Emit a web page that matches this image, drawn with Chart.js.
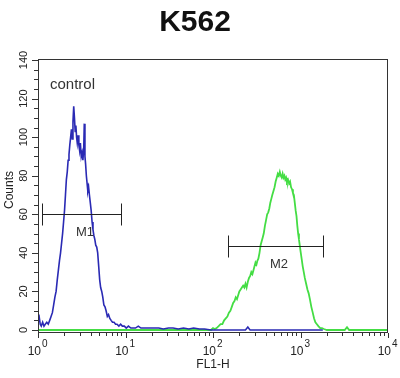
<!DOCTYPE html>
<html>
<head>
<meta charset="utf-8">
<script src="https://cdn.jsdelivr.net/npm/chart.js@4.4.1/dist/chart.umd.min.js"></script>
<style>
html,body{margin:0;padding:0;background:#fff;}
#wrap{width:400px;height:378px;}
</style>
</head>
<body>
<div id="wrap"><canvas id="c" width="400" height="378"></canvas></div>
<script>
// ---- data ----
const title = "K562";
const xTitle = "FL1-H";
const yTitle = "Counts";
const sampleLabel = "control";

const blueX = [1.00,1.03,1.06,1.09,1.13,1.17,1.21,1.26,1.31,1.36,1.41,1.46,1.51,1.56,1.61,1.66,1.71,1.76,1.81,1.86,1.91,1.96,2.01,2.06,2.11,2.16,2.21,2.26,2.31,2.36,2.41,2.46,2.51,2.56,2.61,2.66,2.71,2.76,2.81,2.87,2.93,2.99,3.05,3.12,3.19,3.26,3.33,3.38,3.44,3.50,3.57,3.64,3.71,3.79,3.87,3.96,4.05,4.15,4.25,4.35,4.46,4.57,4.69,4.81,4.94,5.07,5.20,5.35,5.50,5.66,5.83,6.00,6.20,6.40,6.62,6.85,7.1,7.4,7.7,8.0,8.4,8.8,9.2,9.7,10.2,10.8,11.5,12.3,13,14,15,17,19,21,24,27,31,35,40,46,53,60,70,80,95,120,150,200,235,250,265,350,500,1000,1400,1800];
const blueY = [6,7,3,2,4,2,3,4,3,5,7,9,13,17,20,26,31,36,40,45,50,56,62,70,78,82,88,91,96,100,104,99,108,116,110,103,106,100,97,101,96,93,97,90,92,88,94,107,90,86,80,76,72,74,70,66,62,56,52,49,47,44,43,40,33,26,22,20,17,13,12,10,7,8,6,5,4,4,3,3,2,3,2,2,1,2,1,1,1,2,1,1,1,1,1,0.5,1,1,0.5,1,0.5,1,0.5,0.5,0,0,0,0,0,1.5,0,0,0,0,0,0];

const greenX = [1,95,100,105,110,116,122,128,134,140,146,152,158,164,170,176,182,188,194,200,207,214,221,228,235,242,250,258,266,274,282,290,298,306,314,322,330,340,350,360,370,380,392,404,416,428,440,452,464,476,490,505,520,535,550,565,580,595,610,625,640,655,670,685,700,720,740,760,780,800,820,840,860,880,900,920,940,960,980,1000,1030,1060,1090,1120,1160,1200,1240,1280,1330,1380,1430,1480,1540,1600,1680,1760,1850,2000,2400,2800,3200,3400,3600,5000,10000];
const greenY = [0,0,1,0.5,1,2,3,3,5,6,7,9,10,12,14,15,17,16,18,20,21,22,23,22,24,22,25,27,28,30,29,31,33,35,34,36,37,40,44,46,48,50,54,57,60,61,63,66,68,70,72,74,77,79,81,80,82,80,79,81,79,80,78,79,77,78,76,77,74,73,71,70,66,62,59,54,50,47,44,41,37,33,30,27,24,21,19,16,12,9,6,4,3,2,1,1,0.5,0,0,0,0,1.5,0,0,0];

const xMajorTicks = [1,10,100,1000,10000];
const xTickExp = ["0","1","2","3","4"];
const yTickLabels = [0,20,40,60,80,100,120,140];
const yMinorStep = 5;

const markerNames = ["M1","M2"];
const markerFrom  = [1.11, 149];
const markerTo    = [9.0, 1791];
const markerLevel = [60, 43.6];

// ---- chart ----
const pts = (xs, ys) => xs.map((x, i) => ({x: x, y: ys[i]}));

const FONT = '"Liberation Sans", Arial, sans-serif';
const NARROW = '"Liberation Sans Narrow", "Liberation Sans", Arial, sans-serif';

const decor = {
  id: 'decor',
  afterDraw(chart) {
    const ctx = chart.ctx, a = chart.chartArea;
    const xs = chart.scales.x, ys = chart.scales.y;
    ctx.save();
    // frame
    ctx.strokeStyle = '#333';
    ctx.lineWidth = 1;
    ctx.strokeRect(a.left + 0.5, a.top + 0.5, a.right - a.left - 1, a.bottom - a.top - 1);

    // y ticks
    ctx.beginPath();
    for (let v = yTickLabels[0]; v <= yTickLabels[yTickLabels.length - 1]; v += yMinorStep) {
      const y = Math.round(ys.getPixelForValue(v)) + 0.5;
      const len = yTickLabels.includes(v) ? 6 : 4;
      ctx.moveTo(a.left, y); ctx.lineTo(a.left - len, y);
    }
    ctx.stroke();
    // y tick labels (rotated)
    ctx.fillStyle = '#222';
    ctx.font = '11px ' + NARROW;
    ctx.textAlign = 'center';
    ctx.textBaseline = 'alphabetic';
    yTickLabels.forEach(v => {
      const y = ys.getPixelForValue(v);
      ctx.save();
      ctx.translate(27, y);
      ctx.rotate(-Math.PI / 2);
      ctx.fillText(String(v), 0, 0);
      ctx.restore();
    });

    // x ticks
    ctx.beginPath();
    for (let d = 0; d < xMajorTicks.length; d++) {
      const base = xMajorTicks[d];
      const xp = Math.round(xs.getPixelForValue(base)) + 0.5;
      ctx.moveTo(xp, a.bottom); ctx.lineTo(xp, a.bottom + 5);
      if (d < xMajorTicks.length - 1) {
        for (let k = 2; k <= 9; k++) {
          const xm = Math.round(xs.getPixelForValue(base * k)) + 0.5;
          ctx.moveTo(xm, a.bottom); ctx.lineTo(xm, a.bottom + 3);
        }
      }
    }
    ctx.stroke();
    // x tick labels 10^n
    xMajorTicks.forEach((v, i) => {
      const xp = xs.getPixelForValue(v);
      ctx.font = '12px ' + NARROW;
      ctx.textAlign = 'right';
      ctx.fillText('10', xp + 3, 355);
      ctx.font = '10px ' + NARROW;
      ctx.textAlign = 'left';
      ctx.fillText(xTickExp[i], xp + 4, 347);
    });

    // axis titles
    ctx.font = '12px ' + FONT;
    ctx.textAlign = 'center';
    ctx.fillText(xTitle, (a.left + a.right) / 2, 368);
    ctx.save();
    ctx.translate(13, 190);
    ctx.rotate(-Math.PI / 2);
    ctx.fillText(yTitle, 0, 0);
    ctx.restore();

    // title
    ctx.font = 'bold 30px ' + FONT;
    ctx.fillStyle = '#111';
    ctx.fillText(title, 195, 31);

    // sample label
    ctx.font = '15px ' + FONT;
    ctx.fillStyle = '#333';
    ctx.textAlign = 'left';
    ctx.fillText(sampleLabel, 50, 89);

    // markers
    ctx.strokeStyle = '#222';
    ctx.fillStyle = '#333';
    ctx.font = '13px ' + FONT;
    ctx.textAlign = 'center';
    markerNames.forEach((name, i) => {
      const x1 = Math.round(xs.getPixelForValue(markerFrom[i])) + 0.5;
      const x2 = Math.round(xs.getPixelForValue(markerTo[i])) + 0.5;
      const y = Math.round(ys.getPixelForValue(markerLevel[i])) + 0.5;
      ctx.beginPath();
      ctx.moveTo(x1, y); ctx.lineTo(x2, y);
      ctx.moveTo(x1, y - 11); ctx.lineTo(x1, y + 11);
      ctx.moveTo(x2, y - 11); ctx.lineTo(x2, y + 11);
      ctx.stroke();
      ctx.fillText(name, (x1 + x2) / 2 + 3, y + 21);
    });
    ctx.restore();
  }
};

new Chart(document.getElementById('c'), {
  type: 'line',
  data: {
    datasets: [
      {label: 'control', data: pts(blueX, blueY), borderColor: '#2a2ab4', borderWidth: 1.6, pointRadius: 0, tension: 0, fill: false},
      {label: 'K562', data: pts(greenX, greenY), borderColor: '#44dd44', borderWidth: 1.8, pointRadius: 0, tension: 0, fill: false}
    ]
  },
  options: {
    responsive: false,
    animation: false,
    layout: {padding: {left: 38, right: 12, top: 59, bottom: 45}},
    plugins: {legend: {display: false}, tooltip: {enabled: false}, title: {display: false}},
    scales: {
      x: {type: 'logarithmic', min: 1, max: 10000, display: false},
      y: {type: 'linear', min: -1.56, max: 140.52, display: false}
    }
  },
  plugins: [decor]
});
</script>
</body>
</html>
